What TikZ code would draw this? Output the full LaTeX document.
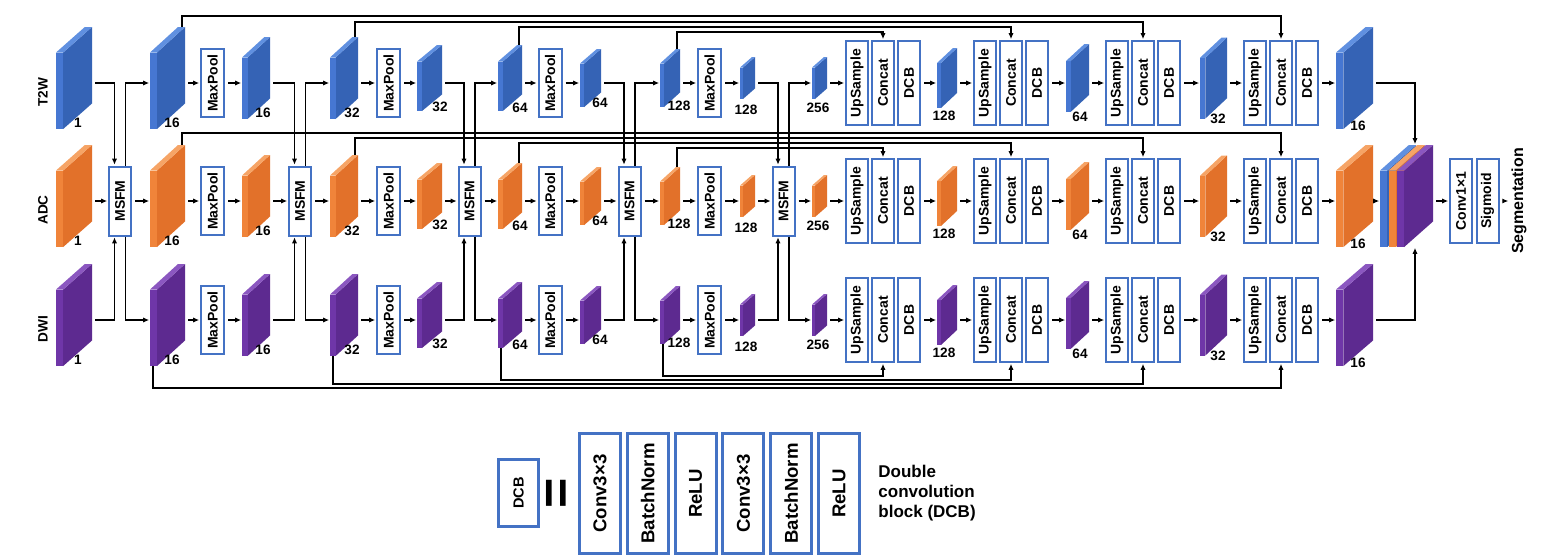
\documentclass[tikz,border=0pt]{standalone}
\usepackage{fontspec}
\setmainfont{Liberation Sans}
\usepackage{graphicx}
\usetikzlibrary{positioning,calc,arrows.meta}

\definecolor{boxblue}{HTML}{4472C4}
\definecolor{blueside}{HTML}{3563B5}
\definecolor{bluefront}{HTML}{4677D2}
\definecolor{bluetop}{HTML}{6090E0}
\definecolor{orangeside}{HTML}{E2712A}
\definecolor{orangefront}{HTML}{F0843A}
\definecolor{orangetop}{HTML}{F6A466}
\definecolor{purpleside}{HTML}{5D2A90}
\definecolor{purplefront}{HTML}{6F36A8}
\definecolor{purpletop}{HTML}{8B57C0}

\newcommand{\vt}[1]{\rotatebox{90}{#1}}

% feature map as a thin plate: name, left x, row y, width, height, colour
\newcommand{\slab}[6]{%
  \pgfmathsetmacro{\slxa}{#2}%
  \pgfmathsetmacro{\slxb}{#2+0.2*#4}%
  \pgfmathsetmacro{\slxc}{#2+0.8*#4}%
  \pgfmathsetmacro{\slxd}{#2+#4}%
  \pgfmathsetmacro{\slya}{#3-5-#5/2}%
  \pgfmathsetmacro{\slyb}{#3-5-#5/4}%
  \pgfmathsetmacro{\slyc}{#3-5+#5/4}%
  \pgfmathsetmacro{\slyd}{#3-5+#5/2}%
  \fill[fill=#6side] (\slxb,\slyb) -- (\slxd,\slya) -- (\slxd,\slyc) -- (\slxb,\slyd) -- cycle;
  \fill[fill=#6front] (\slxa,\slyb) rectangle (\slxb,\slyd);
  \fill[fill=#6top] (\slxa,\slyb) -- (\slxc,\slya) -- (\slxd,\slya) -- (\slxb,\slyb) -- cycle;
  \coordinate (#1-w) at (\slxa,#3);
  \coordinate (#1-e) at (\slxd,#3);
  \coordinate (#1-n) at ({\slxd-3},\slya);
  \coordinate (#1-s) at ({\slxa+3},\slyd);
}

\begin{document}
\begin{tikzpicture}[x=0.5pt,y=-0.5pt,
    blk/.style={draw=boxblue,line width=1pt,fill=white,inner sep=0pt,
      minimum width=11pt,minimum height=42pt,font=\fontsize{7}{8}\selectfont\bfseries},
    pool/.style={blk,minimum width=11.5pt,minimum height=34pt},
    msfm/.style={blk,minimum width=11pt,minimum height=34.5pt},
    lbox/.style={blk,line width=1.5pt,minimum width=20.5pt,minimum height=60pt,
      font=\fontsize{9.3}{11}\selectfont\bfseries},
    num/.style={inner sep=0pt,font=\fontsize{6.8}{8}\selectfont\bfseries},
    rowlab/.style={inner sep=0pt,font=\fontsize{6.8}{8}\selectfont\bfseries},
    arr/.style={-{Latex[length=3pt,width=2.6pt]},line width=0.9pt,shorten <=1.5pt,shorten >=0.4pt},
    link/.style={arr,shorten <=0pt}]
\useasboundingbox (0,0) rectangle (1546,558);

% three branches
\foreach \rw/\ry/\cl/\tx in {t/83/blue/T2W, a/201/orange/ADC, d/320/purple/DWI}{
  \node[rowlab] (lab\rw) at ({43},{\ry+9}) {\vt{\tx}};
  \foreach \i/\xx/\ww/\hh/\lb/\lx/\ly in {1/56/36/102/1/78/40, 2/150/35/102/16/172/40,
      3/242/28/82/16/263/30, 4/330/28/82/32/352/30, 5/417/25/66/32/440/24,
      6/498/24/66/64/520/25, 7/580/21/58/64/600/20, 8/660/20/58/128/679/23,
      9/740/15/42/128/746/27, 10/812/15/42/256/818/25, 11/937/20/60/128/944/33,
      12/1066/23/68/64/1080/34, 13/1200/27/81/32/1218/36, 14/1336/37/102/16/1358/43}{
    \slab{\rw\i}{\xx}{\ry}{\ww}{\hh}{\cl}
    \node[num] (\rw\i-lab) at ({\lx},{\ry+\ly}) {\lb};
  }
  % encoder
  \foreach \k/\xx/\xs/\xe in {1/212.5/2/3, 2/388.5/4/5, 3/550/6/7, 4/709.5/8/9}{
    \node[pool] (\rw p\k) at ({\xx},\ry) {\vt{MaxPool}};
    \draw[arr] (\rw\xs-e) -- (\rw p\k);
    \draw[arr] (\rw p\k) -- (\rw\xe-w);
  }
  % decoder
  \foreach \g/\xx in {1/845, 2/973, 3/1105, 4/1243}{
    \node[blk] (\rw u\g) at ({\xx+12},\ry) {\vt{UpSample}};
    \node[blk] (\rw c\g) at ({\xx+38},\ry) {\vt{Concat}};
    \node[blk] (\rw b\g) at ({\xx+64},\ry) {\vt{DCB}};
  }
  \draw[arr] (\rw10-e) -- (\rw u1);
  \foreach \g/\xs/\xe in {1/11/2, 2/12/3, 3/13/4}{
    \draw[arr] (\rw b\g) -- (\rw\xs-w);
    \draw[arr] (\rw\xs-e) -- (\rw u\xe);
  }
  \draw[arr] (\rw b4) -- (\rw14-w);
}

% fusion modules
\foreach \k/\xx/\si/\so in {1/120/1/2, 2/300/3/4, 3/469.5/5/6, 4/629.5/7/8, 5/783.5/9/10}{
  \node[msfm] (m\k) at ({\xx},201) {\vt{MSFM}};
  \draw[arr] (a\si-e) -- (m\k);
  \draw[arr] (m\k) -- (a\so-w);
  \draw[arr] (t\si-e) -| ([xshift=-2.75pt]m\k.north);
  \draw[link] ([xshift=2.75pt]m\k.north) |- (t\so-w);
  \draw[arr] (d\si-e) -| ([xshift=-2.75pt]m\k.south);
  \draw[link] ([xshift=2.75pt]m\k.south) |- (d\so-w);
}

% skip connections
\foreach \k/\g/\ty/\ay/\dy in {2/4/16/133/388, 4/3/22/138/384, 6/2/27/143/380, 8/1/32/148/376}{
  \coordinate (lvt\g) at (0,\ty);
  \coordinate (lva\g) at (0,\ay);
  \coordinate (lvd\g) at (0,\dy);
  \draw[link] (t\k-n) |- (tc\g.north |- lvt\g) -- (tc\g.north);
  \draw[link] (a\k-n) |- (ac\g.north |- lva\g) -- (ac\g.north);
  \draw[link] (d\k-s) |- (dc\g.south |- lvd\g) -- (dc\g.south);
}

% concatenation and output
\slab{sb}{1380}{201}{36}{102}{blue}
\slab{so}{1388.5}{201}{36}{102}{orange}
\slab{sp}{1397}{201}{36}{102}{purple}
\coordinate (cat-n) at (1415,145);
\coordinate (cat-s) at (1415,247);
\draw[arr] (t14-e) -| (cat-n);
\draw[arr] (a14-e) -- (sb-w);
\draw[arr] (d14-e) -| (cat-s);
\node[blk] (conv) at (1461,201) {\vt{Conv1×1}};
\node[blk] (sig) at (1487.5,201) {\vt{Sigmoid}};
\node[inner sep=1pt,font=\fontsize{8}{9}\selectfont\bfseries] (seg) at (1519,201) {\vt{Segmentation}};
\draw[arr] (sp-e) -- (conv);
\draw[arr] (sig) -- (seg);

% legend
\node[lbox,minimum width=20pt,minimum height=33.5pt,font=\fontsize{7.3}{8}\selectfont\bfseries] (ldcb) at (518.5,493) {\vt{DCB}};
\node[inner sep=0pt,font=\fontsize{26}{26}\selectfont\bfseries] (leq) at (560,493) {\vt{=}};
\node[lbox] (l1) at (600,493.5) {\vt{Conv3×3}};
\node[lbox,right=1.9pt of l1] (l2) {\vt{BatchNorm}};
\node[lbox,right=1.9pt of l2] (l3) {\vt{ReLU}};
\node[lbox,right=1.9pt of l3] (l4) {\vt{Conv3×3}};
\node[lbox,right=1.9pt of l4] (l5) {\vt{BatchNorm}};
\node[lbox,right=1.9pt of l5] (l6) {\vt{ReLU}};
\node[anchor=west,align=left,inner sep=0pt,font=\fontsize{8.5}{10}\selectfont\bfseries] (ltxt) at (878,493) {Double\\convolution\\block (DCB)};

\end{tikzpicture}
\end{document}
